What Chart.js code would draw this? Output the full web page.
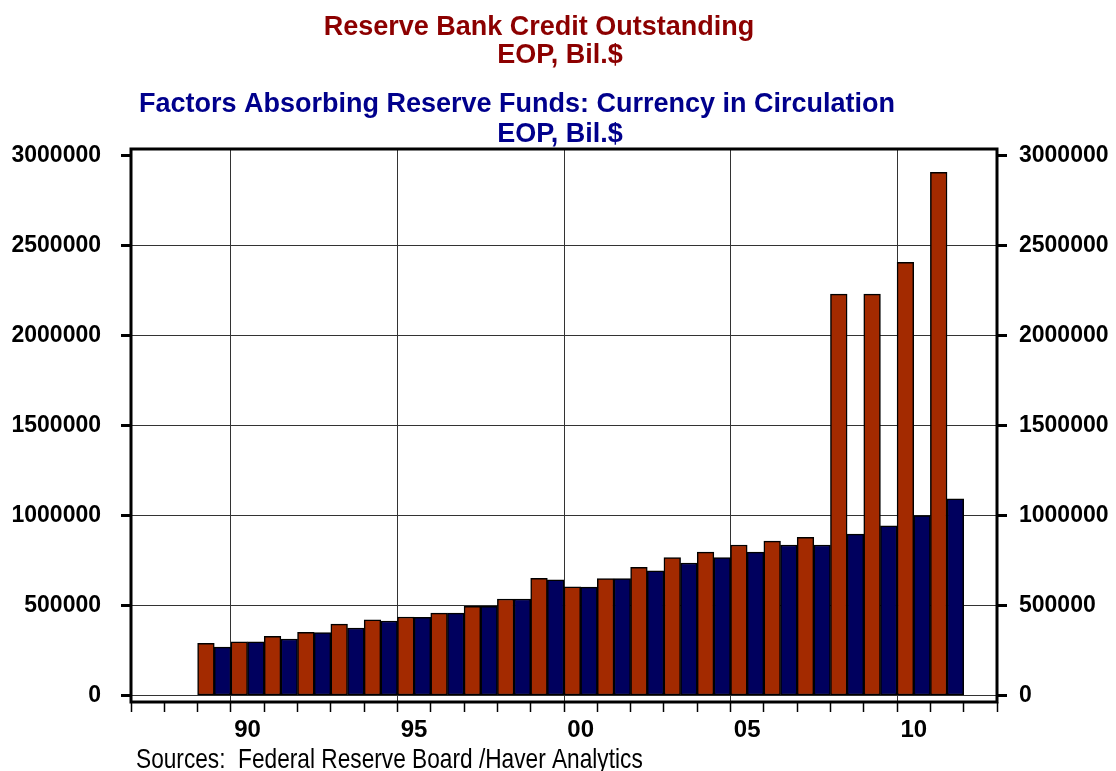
<!DOCTYPE html>
<html>
<head>
<meta charset="utf-8">
<script src="https://cdn.jsdelivr.net/npm/chart.js@4/dist/chart.umd.min.js"></script>
<style>
  html, body { margin: 0; padding: 0; background: #fff; }
  #wrap { width: 1116px; height: 771px; }
</style>
</head>
<body>
<div id="wrap"><canvas id="chBars" width="1116" height="771"></canvas></div>
<script>
/* reserve bank credit vs currency in circulation */

// years on the x axis (1987 - 2012)
var years = [1987, 1988, 1989, 1990, 1991, 1992, 1993, 1994, 1995, 1996, 1997, 1998, 1999,
             2000, 2001, 2002, 2003, 2004, 2005, 2006, 2007, 2008, 2009, 2010, 2011, 2012];

// Reserve Bank Credit Outstanding, EOP
var creditOutstanding = [null, null, 290000, 298000, 329000, 351000, 397000, 421000, 436000, 458000, 495000, 536000, 651000,
                         604000, 649000, 712000, 766000, 797000, 836000, 858000, 879000, 2230000, 2230000, 2407000, 2907000, null];

// Currency in Circulation, EOP
var currency = [null, null, 269000, 298000, 314000, 350000, 375000, 414000, 434000, 458000, 495000, 536000, 643000,
                602000, 649000, 692000, 736000, 766000, 797000, 836000, 836000, 897000, 943000, 999000, 1092000, null];

// years that get a label and a dotted grid line
var labelYears = [1990, 1995, 2000, 2005, 2010];

// value axis ticks (same both sides)
var yTickValues = [0, 500000, 1000000, 1500000, 2000000, 2500000, 3000000];

var fontFamily = "'Liberation Sans', Arial, Helvetica, sans-serif";

// titles and source note
var titlePlugin = {
    id: 'titles',
    afterDraw: function (chart) {
        var ctx = chart.ctx;
        ctx.save();
        ctx.textBaseline = 'alphabetic';
        ctx.textAlign = 'center';
        ctx.font = 'bold 27px ' + fontFamily;
        ctx.fillStyle = '#8c0000';
        ctx.fillText('Reserve Bank Credit Outstanding', 539, 35);
        ctx.fillText('EOP, Bil.$', 560, 63);
        ctx.fillStyle = '#00008c';
        ctx.fillText('Factors Absorbing Reserve Funds: Currency in Circulation', 517, 112);
        ctx.fillText('EOP, Bil.$', 560, 142);

        // source line is narrow in the original
        ctx.textAlign = 'left';
        ctx.fillStyle = '#000';
        ctx.font = '28px ' + fontFamily;
        ctx.translate(136, 768);
        ctx.scale(0.81, 1);
        ctx.fillText('Sources:  Federal Reserve Board /Haver Analytics', 0, 0);
        ctx.restore();
    }
};

// box round the plot area
var framePlugin = {
    id: 'frame',
    afterDatasetsDraw: function (chart) {
        var a = chart.chartArea;
        var ctx = chart.ctx;
        ctx.save();
        ctx.strokeStyle = '#000';
        ctx.lineWidth = 3;
        ctx.strokeRect(a.left, a.top, a.right - a.left, a.bottom - a.top);
        ctx.restore();
    }
};

function setYTicks(scale) {
    scale.ticks = yTickValues.map(function (v) { return { value: v }; });
}

var yTicks = {
    color: '#000',
    font: { family: fontFamily, size: 23, weight: 'bold' },
    callback: function (v) { return String(v); }
};

var chBars = document.getElementById('chBars');
if (chBars) {
    new Chart(chBars, {
        type: 'bar',
        data: {
            labels: years,
            datasets: [
                {
                    label: 'Reserve Bank Credit Outstanding',
                    data: creditOutstanding,
                    backgroundColor: '#a32a00',
                    borderColor: '#000',
                    borderWidth: 1.5,
                    borderSkipped: false,
                    categoryPercentage: 1,
                    barPercentage: 1
                },
                {
                    label: 'Currency in Circulation',
                    data: currency,
                    backgroundColor: '#00005e',
                    borderColor: '#000',
                    borderWidth: 1.5,
                    borderSkipped: false,
                    categoryPercentage: 1,
                    barPercentage: 1
                }
            ]
        },
        options: {
            responsive: false,
            animation: false,
            layout: { padding: { top: 149, left: 0, right: 0, bottom: 0 } },
            plugins: {
                legend: { display: false },
                tooltip: { enabled: false },
                title: { display: false }
            },
            scales: {
                x: {
                    offset: true,
                    border: { display: false },
                    grid: {
                        offset: true,
                        color: function (c) {
                            return labelYears.indexOf(years[c.index]) >= 0 ? '#333' : 'rgba(0,0,0,0)';
                        },
                        borderDash: [1, 2],
                        tickColor: '#000',
                        tickWidth: 1.5,
                        tickBorderDash: [],
                        tickLength: 10
                    },
                    ticks: {
                        autoSkip: false,
                        maxRotation: 0,
                        padding: 4,
                        color: '#000',
                        font: { family: fontFamily, size: 24, weight: 'bold' },
                        callback: function (val, i) {
                            var y = years[i];
                            return labelYears.indexOf(y) >= 0 ? String(y).slice(2) : '';
                        }
                    },
                    afterFit: function (s) { s.height = 69; }
                },
                y: {
                    position: 'left',
                    min: -36000,
                    max: 3036000,
                    border: { display: false },
                    grid: {
                        color: function (c) {
                            return c.tick && c.tick.value === 3000000 ? 'rgba(0,0,0,0)' : '#333';
                        },
                        borderDash: [1, 2],
                        tickColor: '#000',
                        tickWidth: 3,
                        tickBorderDash: [],
                        tickLength: 10
                    },
                    ticks: Object.assign({ padding: 20 }, yTicks),
                    afterBuildTicks: setYTicks,
                    afterFit: function (s) { s.width = 131; }
                },
                y2: {
                    position: 'right',
                    min: -36000,
                    max: 3036000,
                    border: { display: false },
                    grid: {
                        drawOnChartArea: false,
                        color: '#000',
                        tickColor: '#000',
                        tickWidth: 3,
                        tickLength: 10
                    },
                    ticks: Object.assign({ padding: 12 }, yTicks),
                    afterBuildTicks: setYTicks,
                    afterFit: function (s) { s.width = 119; }
                }
            }
        },
        plugins: [titlePlugin, framePlugin]
    });
}
</script>
</body>
</html>
